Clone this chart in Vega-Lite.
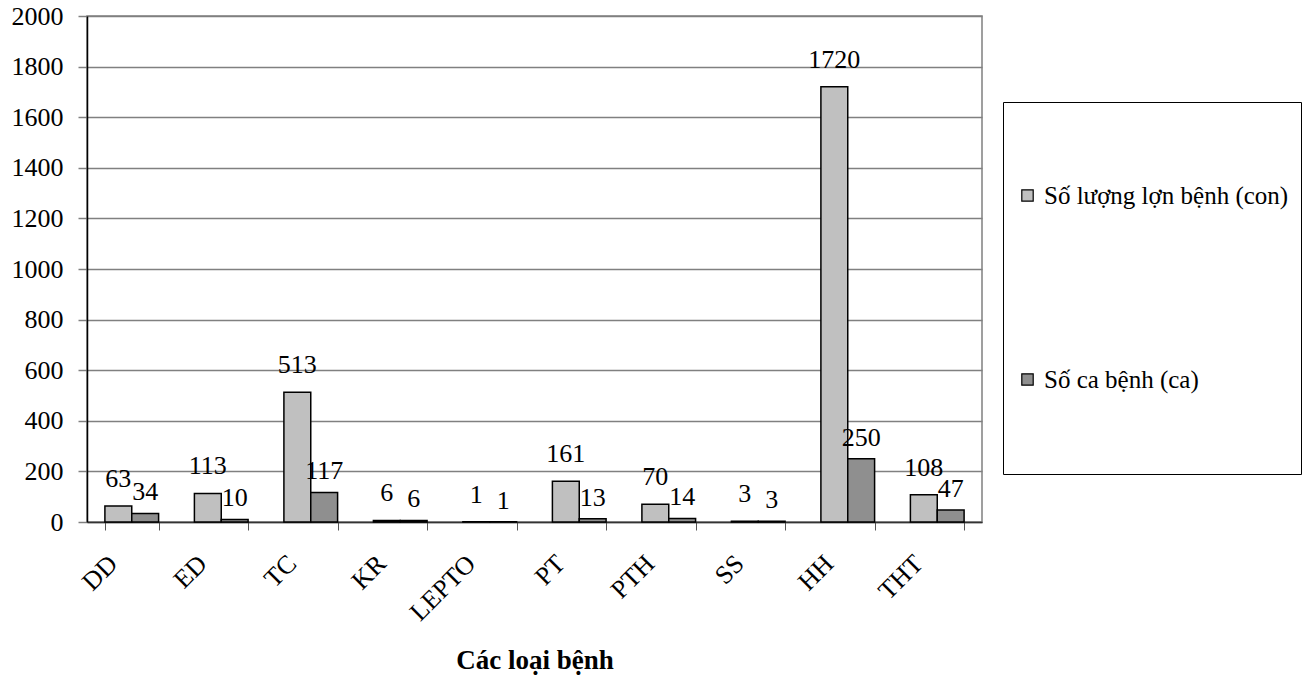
{
  "$schema": "https://vega.github.io/schema/vega-lite/v6.json",
  "width": 895,
  "height": 506,
  "autosize": {"type": "none"},
  "padding": {"left": 87, "top": 16, "right": 328, "bottom": 157},
  "background": "white",
  "data": {
    "values": [
      {"benh": "DD", "loai": "Số lượng lợn bệnh (con)", "so": 63},
      {"benh": "DD", "loai": "Số ca bệnh (ca)", "so": 34},
      {"benh": "ED", "loai": "Số lượng lợn bệnh (con)", "so": 113},
      {"benh": "ED", "loai": "Số ca bệnh (ca)", "so": 10},
      {"benh": "TC", "loai": "Số lượng lợn bệnh (con)", "so": 513},
      {"benh": "TC", "loai": "Số ca bệnh (ca)", "so": 117},
      {"benh": "KR", "loai": "Số lượng lợn bệnh (con)", "so": 6},
      {"benh": "KR", "loai": "Số ca bệnh (ca)", "so": 6},
      {"benh": "LEPTO", "loai": "Số lượng lợn bệnh (con)", "so": 1},
      {"benh": "LEPTO", "loai": "Số ca bệnh (ca)", "so": 1},
      {"benh": "PT", "loai": "Số lượng lợn bệnh (con)", "so": 161},
      {"benh": "PT", "loai": "Số ca bệnh (ca)", "so": 13},
      {"benh": "PTH", "loai": "Số lượng lợn bệnh (con)", "so": 70},
      {"benh": "PTH", "loai": "Số ca bệnh (ca)", "so": 14},
      {"benh": "SS", "loai": "Số lượng lợn bệnh (con)", "so": 3},
      {"benh": "SS", "loai": "Số ca bệnh (ca)", "so": 3},
      {"benh": "HH", "loai": "Số lượng lợn bệnh (con)", "so": 1720},
      {"benh": "HH", "loai": "Số ca bệnh (ca)", "so": 250},
      {"benh": "THT", "loai": "Số lượng lợn bệnh (con)", "so": 108},
      {"benh": "THT", "loai": "Số ca bệnh (ca)", "so": 47}
    ]
  },
  "encoding": {
    "x": {
      "field": "benh",
      "type": "nominal",
      "sort": null,
      "title": "Các loại bệnh",
      "scale": {"paddingInner": 0.4, "paddingOuter": 0.2},
      "axis": {
        "labelAngle": -45,
        "labelFontSize": 26,
        "labelColor": "black",
        "labelOffset": -28,
        "labelPadding": 20,
        "tickBand": "extent",
        "tickSize": 8,
        "tickColor": "#555555",
        "domainColor": "#333333",
        "domainWidth": 1.5,
        "titleFontSize": 27,
        "titleFontWeight": "bold",
        "titleColor": "black",
        "titlePadding": 22
      }
    },
    "xOffset": {
      "field": "loai",
      "type": "nominal",
      "sort": ["Số lượng lợn bệnh (con)", "Số ca bệnh (ca)"]
    },
    "y": {
      "field": "so",
      "type": "quantitative",
      "title": null,
      "scale": {"domain": [0, 2000], "nice": false},
      "axis": {
        "values": [0, 200, 400, 600, 800, 1000, 1200, 1400, 1600, 1800, 2000],
        "format": "d",
        "labelFontSize": 26,
        "labelColor": "black",
        "labelPadding": 15,
        "tickSize": 9,
        "tickColor": "#808080",
        "tickWidth": 1.5,
        "domainColor": "black",
        "domainWidth": 1.5,
        "gridColor": "#808080",
        "gridWidth": 1.5
      }
    }
  },
  "layer": [
    {
      "mark": {"type": "bar", "stroke": "black", "strokeWidth": 1.5},
      "encoding": {
        "color": {
          "field": "loai",
          "type": "nominal",
          "sort": ["Số lượng lợn bệnh (con)", "Số ca bệnh (ca)"],
          "scale": {
            "domain": ["Số lượng lợn bệnh (con)", "Số ca bệnh (ca)"],
            "range": ["#c0c0c0", "#8f8f8f"]
          },
          "legend": {
            "orient": "none",
            "legendX": 916,
            "legendY": 86,
            "title": "\u00a0",
            "titleFontSize": 24,
            "titlePadding": 45,
            "strokeColor": "black",
            "fillColor": "white",
            "padding": 12,
            "rowPadding": 89,
            "symbolType": "square",
            "symbolSize": 130,
            "symbolStrokeColor": "black",
            "labelFontSize": 25,
            "labelColor": "black",
            "labelLimit": 400,
            "labelOffset": 4,
            "labelExpr": "[datum.label, '', '', '']",
            "encode": {"labels": {"update": {"lineHeight": {"value": 23}}}}
          }
        }
      }
    },
    {
      "transform": [{"filter": "datum.loai === 'Số lượng lợn bệnh (con)'"}],
      "mark": {
        "type": "text",
        "dy": -19,
        "baseline": "alphabetic",
        "fontSize": 26,
        "color": "black"
      },
      "encoding": {"text": {"field": "so", "type": "quantitative"}}
    },
    {
      "transform": [{"filter": "datum.loai === 'Số ca bệnh (ca)'"}],
      "mark": {
        "type": "text",
        "dy": -13,
        "baseline": "alphabetic",
        "fontSize": 26,
        "color": "black"
      },
      "encoding": {"text": {"field": "so", "type": "quantitative"}}
    }
  ],
  "config": {
    "font": "Liberation Serif, Times New Roman, DejaVu Serif, serif",
    "view": {"stroke": "#808080", "strokeWidth": 1.5},
    "legend": {"symbolStrokeWidth": 1.2}
  }
}
